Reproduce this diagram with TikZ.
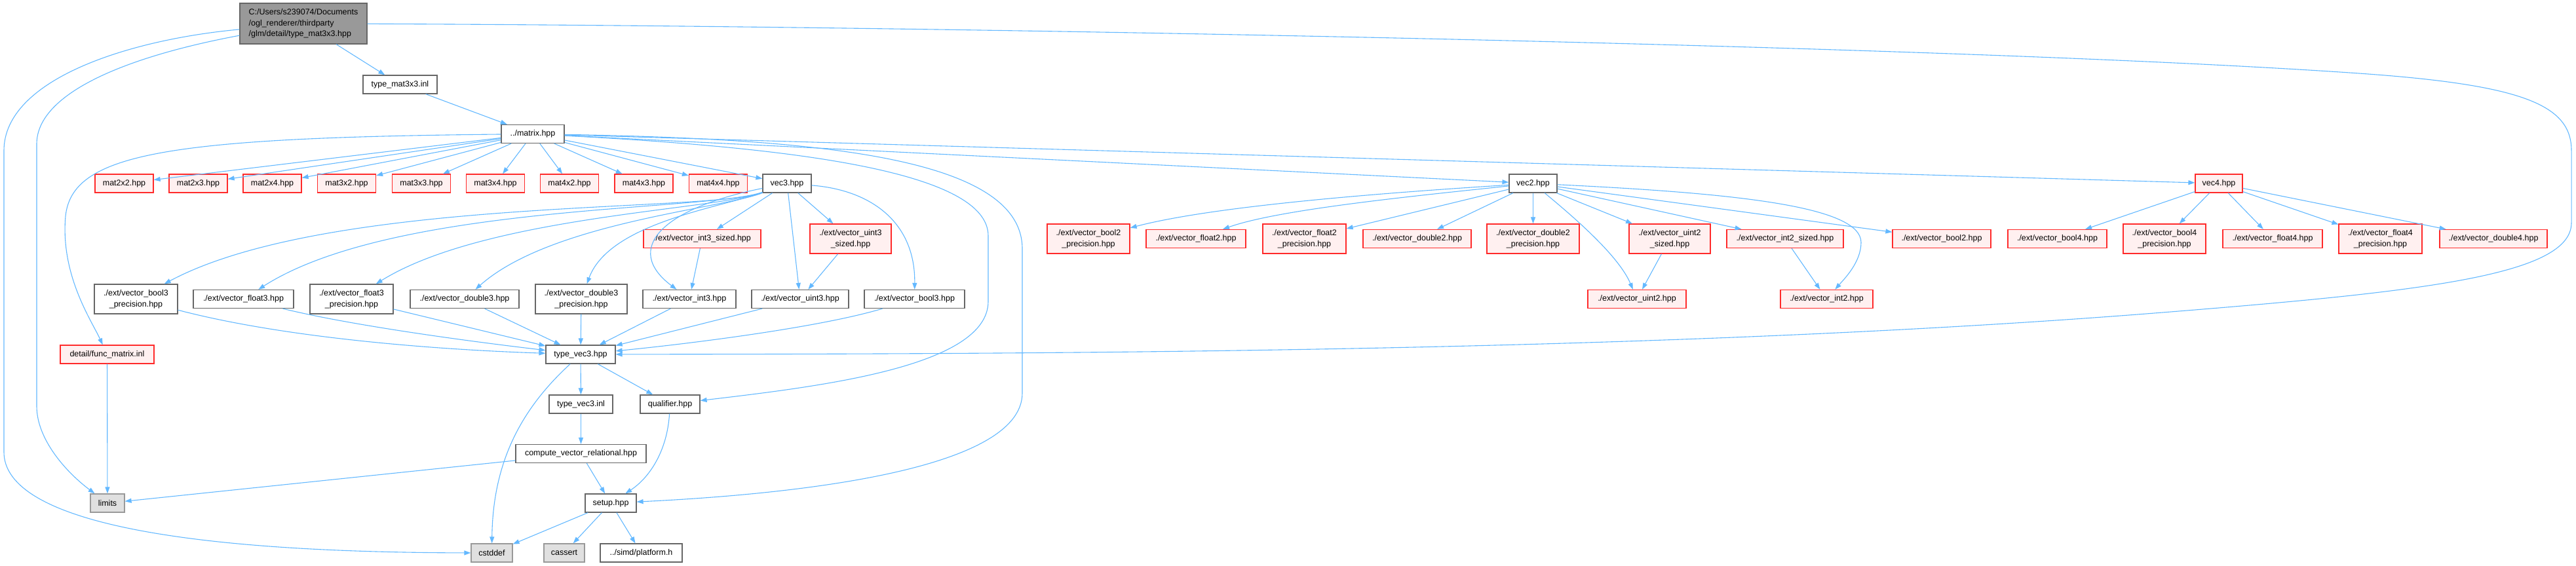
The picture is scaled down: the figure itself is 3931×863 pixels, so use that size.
\documentclass[tikz,border=0pt]{standalone}
\usepackage{fontspec}
\setmainfont{Liberation Sans}
\usetikzlibrary{arrows.meta,positioning}
\definecolor{edgeBlue}{HTML}{63B8FF}
\definecolor{fileFrame}{HTML}{666666}
\definecolor{missFrame}{HTML}{FF2A2A}
\definecolor{missFill}{HTML}{FFF0F0}
\definecolor{sysFrame}{HTML}{999999}
\definecolor{sysFill}{HTML}{E0E0E0}
\definecolor{rootFill}{HTML}{999999}

\begin{document}
\begin{tikzpicture}[x=1pt,y=-1pt,>={Triangle[length=10pt,width=7pt]},
  file/.style={draw=fileFrame,fill=white,line width=1.2pt,inner sep=0pt,
    minimum height=28pt,align=center,font=\fontsize{12.5}{16.7}\selectfont},
  missing/.style={file,draw=missFrame,fill=missFill},
  sysinc/.style={file,draw=sysFrame,fill=sysFill},
  rootfile/.style={file,fill=rootFill,minimum height=62pt,align=left},
  tall/.style={minimum height=45pt},
  dep/.style={->,draw=edgeBlue,line width=1.1pt}]
  \useasboundingbox (0,0) rectangle (3931,863);

  \node[rootfile,minimum width=194pt] (root) at (463,36) {C:/Users/s239074/Documents\\/ogl\_renderer/thirdparty\\/glm/detail/type\_mat3x3.hpp};
  \node[file,minimum width=113pt] (tmi) at (610.5,129) {type\_mat3x3.inl};
  \node[file,minimum width=96pt] (matrix) at (813,204.5) {../matrix.hpp};

  \foreach \m/\x in {2x2/189.5,2x3/302.5,2x4/415.5,3x2/529,3x3/643,3x4/756,4x2/869,4x3/982.5,4x4/1096}
    \node[missing,minimum width=89pt] (mat\m) at (\x,280) {mat\m.hpp};
  \node[file,minimum width=74pt] (vec3) at (1201,280) {vec3.hpp};
  \node[file,minimum width=73pt] (vec2) at (2339.5,280) {vec2.hpp};
  \node[missing,minimum width=72pt] (vec4) at (3386,280) {vec4.hpp};

  \node[missing,minimum width=179pt] (int3s) at (1071.5,364.5) {./ext/vector\_int3\_sized.hpp};
  \node[missing,tall,minimum width=124pt] (uint3s) at (1298,364.5) {./ext/vector\_uint3\\\_sized.hpp};
  \node[missing,tall,minimum width=126pt] (b2p) at (1661,364.5) {./ext/vector\_bool2\\\_precision.hpp};
  \node[missing,minimum width=152pt] (f2) at (1825,364.5) {./ext/vector\_float2.hpp};
  \node[missing,tall,minimum width=127pt] (f2p) at (1990.5,364.5) {./ext/vector\_float2\\\_precision.hpp};
  \node[missing,minimum width=165pt] (d2) at (2162.5,364.5) {./ext/vector\_double2.hpp};
  \node[missing,tall,minimum width=141pt] (d2p) at (2339.5,364.5) {./ext/vector\_double2\\\_precision.hpp};
  \node[missing,tall,minimum width=124pt] (u2s) at (2548,364.5) {./ext/vector\_uint2\\\_sized.hpp};
  \node[missing,minimum width=178pt] (i2s) at (2724,364.5) {./ext/vector\_int2\_sized.hpp};
  \node[missing,minimum width=150pt] (b2) at (2963,364.5) {./ext/vector\_bool2.hpp};
  \node[missing,minimum width=151pt] (b4) at (3139.5,364.5) {./ext/vector\_bool4.hpp};
  \node[missing,tall,minimum width=126pt] (b4p) at (3303,364.5) {./ext/vector\_bool4\\\_precision.hpp};
  \node[missing,minimum width=152pt] (f4) at (3468,364.5) {./ext/vector\_float4.hpp};
  \node[missing,tall,minimum width=127pt] (f4p) at (3632.5,364.5) {./ext/vector\_float4\\\_precision.hpp};
  \node[missing,minimum width=164pt] (d4) at (3805,364.5) {./ext/vector\_double4.hpp};

  \node[file,tall,minimum width=127pt] (b3p) at (207.5,456.5) {./ext/vector\_bool3\\\_precision.hpp};
  \node[file,minimum width=153pt] (f3) at (371.5,456.5) {./ext/vector\_float3.hpp};
  \node[file,tall,minimum width=127pt] (f3p) at (536.5,456.5) {./ext/vector\_float3\\\_precision.hpp};
  \node[file,minimum width=166pt] (d3) at (709,456.5) {./ext/vector\_double3.hpp};
  \node[file,tall,minimum width=140pt] (d3p) at (887,456.5) {./ext/vector\_double3\\\_precision.hpp};
  \node[file,minimum width=142pt] (i3) at (1052,456.5) {./ext/vector\_int3.hpp};
  \node[file,minimum width=148pt] (u3) at (1221,456.5) {./ext/vector\_uint3.hpp};
  \node[file,minimum width=153pt] (b3) at (1395.5,456.5) {./ext/vector\_bool3.hpp};
  \node[missing,minimum width=150pt] (u2) at (2498,456.5) {./ext/vector\_uint2.hpp};
  \node[missing,minimum width=141pt] (i2) at (2787.5,456.5) {./ext/vector\_int2.hpp};

  \node[missing,minimum width=143pt] (fmat) at (163.5,541) {detail/func\_matrix.inl};
  \node[file,minimum width=106pt] (tv3) at (886,541) {type\_vec3.hpp};
  \node[file,minimum width=97pt] (tv3inl) at (886.5,617) {type\_vec3.inl};
  \node[file,minimum width=91pt] (qual) at (1022.5,617) {qualifier.hpp};
  \node[file,minimum width=199pt] (cvr) at (886.5,692.5) {compute\_vector\_relational.hpp};
  \node[sysinc,minimum width=52pt] (lim) at (164,768) {limits};
  \node[file,minimum width=78pt] (setup) at (932,768) {setup.hpp};
  \node[sysinc,minimum width=63pt] (cst) at (750.5,844) {cstddef};
  \node[sysinc,minimum width=62pt] (cas) at (861,844) {cassert};
  \node[file,minimum width=125pt] (plat) at (978.5,844) {../simd/platform.h};

  \draw[dep] (root) -- (tmi);
  \draw[dep] (root) .. controls (200,85) and (56,140) .. (56,220) -- (56,620) .. controls (56,670) and (100,720) .. (lim);
  \draw[dep] (root) .. controls (200,60) and (6,120) .. (6,230) -- (6,690) .. controls (6,790) and (250,843) .. (cst);
  \draw[dep] (root) .. controls (1500,40) and (3000,70) .. (3600,112) .. controls (3850,129.5) and (3924,160) .. (3924,230)
    -- (3924,340) .. controls (3924,420) and (3700,445) .. (3300,477) .. controls (2500,541) and (1500,540) .. (tv3);
  \draw[dep] (tmi) -- (matrix);

  \foreach \m in {2x2,2x3,2x4,3x2,3x3,3x4,4x2,4x3,4x4}
    \draw[dep] (matrix) -- (mat\m);
  \draw[dep] (matrix) -- (vec3);
  \draw[dep] (matrix) -- (vec2);
  \draw[dep] (matrix) -- (vec4);
  \draw[dep] (matrix) .. controls (250,210) and (110,235) .. (100,330) .. controls (92,420) and (140,490) .. (fmat);
  \draw[dep] (matrix) .. controls (1200,225) and (1508,260) .. (1508,360) -- (1508,460) .. controls (1508,560) and (1250,590) .. (qual);
  \draw[dep] (matrix) .. controls (1250,212) and (1560,240) .. (1560,380) -- (1560,600) .. controls (1560,720) and (1200,755) .. (setup);

  \draw[dep] (vec3) .. controls (1080,325) and (500,300) .. (b3p);
  \draw[dep] (vec3) .. controls (1080,323) and (600,310) .. (f3);
  \draw[dep] (vec3) .. controls (1090,321) and (740,330) .. (f3p);
  \draw[dep] (vec3) .. controls (1100,319) and (840,340) .. (d3);
  \draw[dep] (vec3) .. controls (1100,317) and (930,340) .. (d3p);
  \draw[dep] (vec3) .. controls (1010,318) and (950,380) .. (i3);
  \draw[dep] (vec3) -- (int3s);
  \draw[dep] (vec3) -- (u3);
  \draw[dep] (vec3) -- (uint3s);
  \draw[dep] (vec3) .. controls (1330,290) and (1397,340) .. (b3);
  \draw[dep] (int3s) -- (i3);
  \draw[dep] (uint3s) -- (u3);

  \draw[dep] (b3p) .. controls (450,520) and (700,535) .. (tv3);
  \draw[dep] (f3) .. controls (550,500) and (750,525) .. (tv3);
  \draw[dep] (f3p) -- (tv3);
  \draw[dep] (d3) -- (tv3);
  \draw[dep] (d3p) -- (tv3);
  \draw[dep] (i3) -- (tv3);
  \draw[dep] (u3) -- (tv3);
  \draw[dep] (b3) .. controls (1250,500) and (1050,525) .. (tv3);

  \draw[dep] (tv3) .. controls (800,620) and (752,700) .. (cst);
  \draw[dep] (tv3) -- (tv3inl);
  \draw[dep] (tv3) -- (qual);
  \draw[dep] (tv3inl) -- (cvr);
  \draw[dep] (cvr) -- (lim);
  \draw[dep] (cvr) -- (setup);
  \draw[dep] (qual) .. controls (1018,690) and (990,730) .. (setup);
  \draw[dep] (setup) -- (cst);
  \draw[dep] (setup) -- (cas);
  \draw[dep] (setup) -- (plat);
  \draw[dep] (fmat) -- (lim);

  \draw[dep] (vec2) .. controls (2100,295) and (1850,315) .. (b2p);
  \draw[dep] (vec2) .. controls (2150,300) and (1950,320) .. (f2);
  \draw[dep] (vec2) -- (f2p);
  \draw[dep] (vec2) -- (d2);
  \draw[dep] (vec2) -- (d2p);
  \draw[dep] (vec2) .. controls (2400,330) and (2470,390) .. (u2);
  \draw[dep] (vec2) -- (u2s);
  \draw[dep] (vec2) -- (i2s);
  \draw[dep] (vec2) .. controls (2650,295) and (2840,315) .. (2840,370) .. controls (2840,400) and (2815,425) .. (i2);
  \draw[dep] (vec2) -- (b2);
  \draw[dep] (u2s) -- (u2);
  \draw[dep] (i2s) -- (i2);

  \draw[dep] (vec4) -- (b4);
  \draw[dep] (vec4) -- (b4p);
  \draw[dep] (vec4) -- (f4);
  \draw[dep] (vec4) -- (f4p);
  \draw[dep] (vec4) -- (d4);
\end{tikzpicture}
\end{document}
